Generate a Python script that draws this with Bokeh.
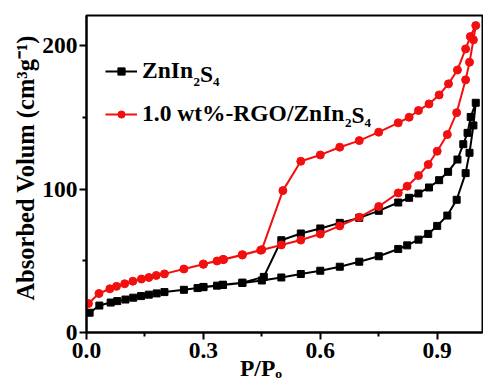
from bokeh.plotting import figure
from bokeh.models import Label, Range1d, FixedTicker, Legend, LegendItem
from bokeh.embed import file_html
from bokeh.resources import INLINE

# ---------------- data ----------------
zis_ads_x = [0.008, 0.033, 0.062, 0.079, 0.10, 0.12, 0.14, 0.16, 0.18, 0.20, 0.25, 0.285, 0.30,
             0.335, 0.35, 0.40, 0.45, 0.50, 0.55, 0.60, 0.65, 0.70, 0.75, 0.80, 0.823, 0.852,
             0.877, 0.90, 0.926, 0.95, 0.973, 0.983, 0.993, 0.999]
zis_ads_y = [13.8, 18.8, 20.9, 21.9, 23.0, 24.3, 25.4, 26.4, 27.3, 28.2, 29.8, 31.0, 31.6,
             32.7, 33.2, 34.6, 36.3, 38.4, 40.8, 43.1, 45.9, 49.4, 53.2, 58.3, 60.8, 64.8,
             68.8, 74.4, 81.6, 92.6, 111.2, 125.4, 144.5, 160.3]
zis_des_x = [0.986, 0.978, 0.967, 0.952, 0.928, 0.905, 0.879, 0.852, 0.828, 0.80, 0.75, 0.70,
             0.65, 0.60, 0.55, 0.50, 0.455, 0.40, 0.35, 0.30]
zis_des_y = [150.4, 139.3, 131.4, 120.7, 112.1, 106.3, 101.2, 97.0, 94.0, 90.7, 84.9, 80.0,
             76.5, 72.6, 69.1, 64.4, 38.8, 34.8, 33.3, 31.8]

rgo_ads_x = [0.005, 0.032, 0.060, 0.077, 0.098, 0.119, 0.141, 0.160, 0.179, 0.200, 0.250,
             0.300, 0.335, 0.352, 0.400, 0.447, 0.50, 0.55, 0.60, 0.65, 0.70, 0.75, 0.80,
             0.823, 0.852, 0.877, 0.90, 0.926, 0.95, 0.973, 0.983, 0.993, 0.999]
rgo_ads_y = [20.2, 27.2, 30.5, 32.2, 34.0, 35.8, 37.3, 38.4, 39.8, 40.9, 44.3, 47.6, 49.9,
             50.9, 54.1, 57.4, 61.1, 64.5, 68.7, 74.4, 80.4, 87.9, 97.4, 102.1, 109.5, 117.2,
             126.5, 138.1, 153.4, 176.3, 188.6, 204.2, 214.2]
rgo_des_x = [0.985, 0.973, 0.952, 0.929, 0.905, 0.879, 0.852, 0.828, 0.80, 0.75, 0.70, 0.65,
             0.60, 0.55, 0.504, 0.45, 0.40, 0.35, 0.30]
rgo_des_y = [206.5, 197.9, 183.2, 173.5, 165.8, 159.5, 154.9, 150.2, 146.3, 139.8, 133.9,
             129.3, 123.9, 119.5, 99.0, 57.8, 54.3, 51.0, 47.8]

x_ticks = [0.0, 0.3, 0.6, 0.9]
x_tick_labels = ["0.0", "0.3", "0.6", "0.9"]
x_minor = [0.15, 0.45, 0.75]
y_ticks = [0, 100, 200]
y_tick_labels = ["0", "100", "200"]
y_minor = [50, 150]

x_title = "P/P\u2092" + "\u00a0" * 8          # P/Pₒ (nbsp shift the centre left)
y_title = "\u00a0\u00a0Absorbed Volum (cm\u00b3g\u207b\u00b9)"

# ---------------- layout ----------------
FONT = "Liberation Serif"
# Times/Liberation Serif Bold advance widths (1/1000 em)
W = {" ": 250, "%": 1000, "(": 333, ")": 333, "-": 333, ".": 250, "/": 278, "0": 500, "1": 500,
     "2": 500, "3": 500, "4": 500, "A": 722, "G": 778, "I": 389, "O": 778, "P": 611, "R": 722,
     "S": 556, "V": 722, "Z": 667, "b": 556, "c": 444, "d": 556, "e": 444, "g": 500, "l": 278,
     "m": 833, "n": 556, "o": 500, "r": 444, "s": 389, "t": 333, "u": 556, "w": 722}


def tw(s, size):
    return sum(W[c] for c in s) * size / 1000.0


CW, CH = 483, 384
FL, FR, FT, FB = 86, 482, 15, 332

p = figure(width=CW, height=CH, output_backend="svg", toolbar_location=None,
           x_range=Range1d(0, 1.0163), y_range=Range1d(0, 221.2),
           min_border_left=FL, min_border_right=CW - FR, min_border_top=FT,
           min_border_bottom=CH - FB)
p.background_fill_color = "white"
p.border_fill_color = "white"
p.xgrid.visible = False
p.ygrid.visible = False
p.outline_line_color = "black"
p.outline_line_width = 2

TICK_SIZE = "23.5px"
for ax, tk, mn, lbl in ((p.xaxis[0], x_ticks, x_minor, x_tick_labels),
                        (p.yaxis[0], y_ticks, y_minor, y_tick_labels)):
    ax.ticker = FixedTicker(ticks=tk, minor_ticks=mn)
    ax.major_label_overrides = {t: l for t, l in zip(tk, lbl)}
    ax.axis_line_width = 2
    ax.axis_line_color = "black"
    ax.major_tick_line_width = 2
    ax.minor_tick_line_width = 2
    ax.major_tick_in = 0
    ax.major_tick_out = 7
    ax.minor_tick_in = 0
    ax.minor_tick_out = 4
    ax.major_label_text_font = FONT
    ax.major_label_text_font_style = "bold"
    ax.major_label_text_font_size = TICK_SIZE
    ax.major_label_text_color = "black"
    ax.axis_label_text_font = FONT
    ax.axis_label_text_font_style = "bold"
    ax.axis_label_text_color = "black"
p.xaxis.major_label_standoff = 3
p.yaxis.major_label_standoff = 2

p.xaxis.axis_label = x_title
p.xaxis.axis_label_text_font_size = TICK_SIZE
p.xaxis.axis_label_standoff = -6
p.yaxis.axis_label = y_title
p.yaxis.axis_label_text_font_size = "24.5px"
p.yaxis.axis_label_standoff = 0

BLACK = "black"
RED = "#f20f0f"
zx = zis_ads_x + zis_des_x
zy = zis_ads_y + zis_des_y
rx = rgo_ads_x + rgo_des_x
ry = rgo_ads_y + rgo_des_y

zl = p.line(zx, zy, line_color=BLACK, line_width=2)
zs = p.scatter(zx, zy, marker="square", size=7, fill_color=BLACK, line_color=BLACK)
rl = p.line(rx, ry, line_color=RED, line_width=2)
rs = p.scatter(rx, ry, marker="circle", size=8, fill_color=RED, line_color=RED)

legend = Legend(items=[LegendItem(label="ZnIn", renderers=[zl, zs]),
                       LegendItem(label="1.0 wt%-RGO/ZnIn", renderers=[rl, rs])],
                location=(19, 205), orientation="vertical",
                glyph_width=32, glyph_height=18, label_height=20, spacing=16,
                padding=0, margin=0, label_standoff=5,
                border_line_alpha=0, background_fill_alpha=0,
                label_text_font=FONT, label_text_font_style="bold",
                label_text_font_size=TICK_SIZE, label_text_color="black")
p.add_layout(legend)


def lab(text, cx, cy, size):
    """Text piece (inside the frame) whose baseline-left anchor sits at canvas pixel (cx, cy)."""
    p.add_layout(Label(x=cx - FL, y=FB - cy, x_units="screen", y_units="screen",
                       text=text, text_font=FONT, text_font_style="bold",
                       text_font_size=f"{size}px", text_color="black",
                       text_align="left", text_baseline="alphabetic"))


# subscripts after the legend texts
MAIN, SUB = 23.5, 13
lx0 = FL + 19 + 32 + 5
for row_text, base in (("ZnIn", 73.5), ("1.0 wt%-RGO/ZnIn", 114.0)):
    x = lx0 + tw(row_text, MAIN)
    lab("2", x, base + 8, SUB)
    x += tw("2", SUB)
    lab("S", x, base, MAIN)
    x += tw("S", MAIN)
    lab("4", x, base + 8, SUB)

open("out.html", "w").write(file_html(p, INLINE))
